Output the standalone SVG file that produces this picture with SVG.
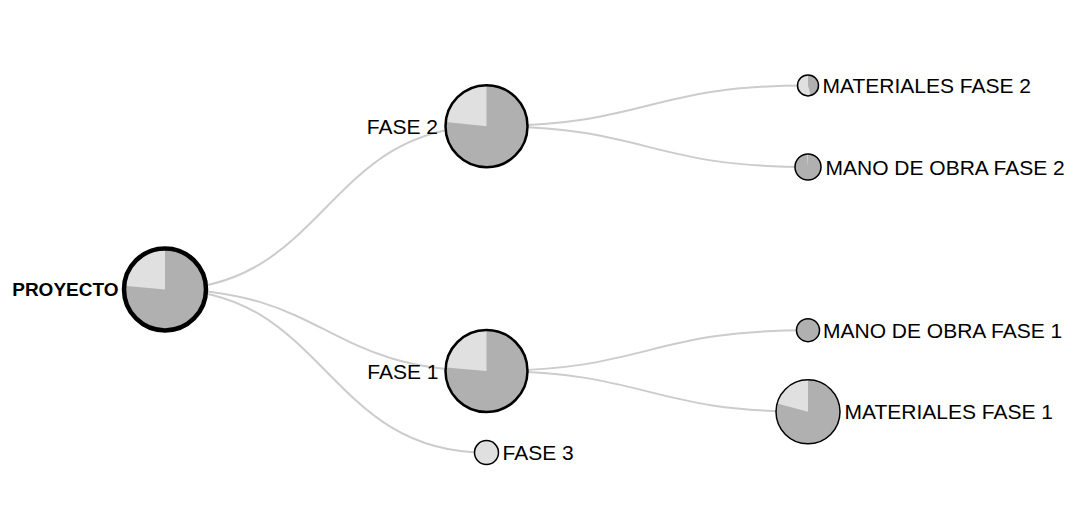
<svg xmlns="http://www.w3.org/2000/svg" width="1080" height="531" viewBox="0 0 1080 531">
<style>
.link{fill:none;stroke:#cccccc;stroke-width:2}
.dark{fill:#b0b0b0}
.light{fill:#e0e0e0}
.ring{fill:none;stroke:#000}
.lbl{font-family:"Liberation Sans",Arial,Helvetica,sans-serif;font-size:21px;fill:#000}
.end{text-anchor:end}
.root{font-weight:bold;font-size:19px}
</style>
<rect width="1080" height="531" fill="#ffffff"/>
<g id="connectors">
<path class="link" d="M165,289.4 C325.75,289.4 325.75,126.2 486.5,126.2"/>
<path class="link" d="M165,289.4 C325.75,289.4 325.75,371 486.5,371"/>
<path class="link" d="M165,289.4 C325.75,289.4 325.75,452.6 486.5,452.6"/>
<path class="link" d="M486.5,126.2 C647.25,126.2 647.25,85.4 808,85.4"/>
<path class="link" d="M486.5,126.2 C647.25,126.2 647.25,167 808,167"/>
<path class="link" d="M486.5,371 C647.25,371 647.25,330.2 808,330.2"/>
<path class="link" d="M486.5,371 C647.25,371 647.25,411.8 808,411.8"/>
</g>
<g id="node-proyecto">
<circle class="dark" cx="165" cy="289.4" r="41"/>
<path class="light" d="M165,289.4 L124.16,285.83 A41,41 0 0 1 165,248.4 Z"/>
<circle class="ring" cx="165" cy="289.4" r="41" stroke-width="4.5"/>
<text class="lbl end root" x="118.5" y="296">PROYECTO</text>
</g>
<g id="node-fase2">
<circle class="dark" cx="486.5" cy="126.2" r="41"/>
<path class="light" d="M486.5,126.2 L445.72,121.91 A41,41 0 0 1 486.5,85.2 Z"/>
<circle class="ring" cx="486.5" cy="126.2" r="41" stroke-width="2.5"/>
<text class="lbl end" x="438" y="133.8">FASE 2</text>
</g>
<g id="node-fase1">
<circle class="dark" cx="486.5" cy="371" r="41"/>
<path class="light" d="M486.5,371 L445.66,367.43 A41,41 0 0 1 486.5,330 Z"/>
<circle class="ring" cx="486.5" cy="371" r="41" stroke-width="2.5"/>
<text class="lbl end" x="438.5" y="378.6">FASE 1</text>
</g>
<g id="node-fase3">
<circle class="light" cx="486.5" cy="452.6" r="12"/>
<circle class="ring" cx="486.5" cy="452.6" r="12" stroke-width="1.5"/>
<text class="lbl" x="502.5" y="460.2">FASE 3</text>
</g>
<g id="node-materiales-fase2">
<circle class="dark" cx="808" cy="85.4" r="10.5"/>
<path class="light" d="M808,85.4 L810.72,95.54 A10.5,10.5 0 1 1 808,74.9 Z"/>
<circle class="ring" cx="808" cy="85.4" r="10.5" stroke-width="1.5"/>
<text class="lbl" x="822.5" y="93">MATERIALES FASE 2</text>
</g>
<g id="node-mano-obra-fase2">
<circle class="dark" cx="808" cy="167" r="13"/>
<path class="light" d="M808,167 L807.09,154.03 A13,13 0 0 1 808,154 Z"/>
<circle class="ring" cx="808" cy="167" r="13" stroke-width="1.5"/>
<text class="lbl" x="825.5" y="174.6">MANO DE OBRA FASE 2</text>
</g>
<g id="node-mano-obra-fase1">
<circle class="dark" cx="808" cy="330.2" r="11.5"/>
<circle class="ring" cx="808" cy="330.2" r="11.5" stroke-width="1.5"/>
<text class="lbl" x="823" y="337.8">MANO DE OBRA FASE 1</text>
</g>
<g id="node-materiales-fase1">
<circle class="dark" cx="808" cy="411.8" r="32"/>
<path class="light" d="M808,411.8 L777.09,403.52 A32,32 0 0 1 808,379.8 Z"/>
<circle class="ring" cx="808" cy="411.8" r="32" stroke-width="1.5"/>
<text class="lbl" x="844.5" y="419.4">MATERIALES FASE 1</text>
</g>
</svg>
